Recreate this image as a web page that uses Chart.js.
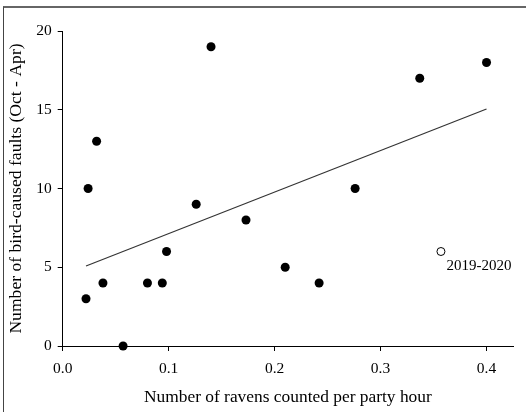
<!DOCTYPE html>
<html>
<head>
<meta charset="utf-8">
<script src="https://cdn.jsdelivr.net/npm/chart.js@4"></script>
<style>
  html, body { margin: 0; padding: 0; background: #fff; }
  #wrap { position: relative; width: 526px; height: 412px; overflow: hidden; }
  #frame { position: absolute; left: 3px; top: 6px; right: -10px; bottom: -10px;
           border-top: 2px solid #666; border-left: 1px solid #444; pointer-events: none; }
  canvas { position: absolute; left: 0; top: 0; }
</style>
</head>
<body>
<div id="wrap">
  <canvas id="c" width="526" height="412"></canvas>
  <div id="frame"></div>
</div>
<script>
// ---- data ----
const ravenRates = [0.022, 0.024, 0.032, 0.038, 0.057, 0.080, 0.094, 0.098, 0.126, 0.140, 0.173, 0.210, 0.242, 0.276, 0.337, 0.400];
const birdFaults = [3, 10, 13, 4, 0, 4, 4, 6, 9, 19, 8, 5, 4, 10, 17, 18];
const outlierX = [0.357];
const outlierY = [6];
const outlierLabel = "2019-2020";
const trendX = [0.022, 0.400];
const trendY = [5.08, 15.05];
const xTicks = [0.0, 0.1, 0.2, 0.3, 0.4];
const yTicks = [0, 5, 10, 15, 20];
const xTitle = "Number of ravens counted per party hour";
const yTitle = "Number of bird-caused faults (Oct - Apr)";

const FONT = "'Liberation Serif', 'Times New Roman', serif";

const labelPlugin = {
  id: 'outlierLabel',
  afterDatasetsDraw(chart) {
    const {ctx, scales: {x, y}} = chart;
    ctx.save();
    ctx.font = "15px " + FONT;
    ctx.fillStyle = "#000";
    ctx.textAlign = "left";
    ctx.textBaseline = "middle";
    const px = x.getPixelForValue(outlierX[0]);
    const py = y.getPixelForValue(outlierY[0]);
    ctx.fillText(outlierLabel, px + 5.5, py + 15);
    ctx.restore();
  }
};

new Chart(document.getElementById('c'), {
  type: 'scatter',
  data: {
    datasets: [
      {
        type: 'line',
        data: trendX.map((v, i) => ({x: v, y: trendY[i]})),
        borderColor: '#333',
        borderWidth: 1.2,
        pointRadius: 0,
        fill: false,
        clip: false,
        order: 3
      },
      {
        data: ravenRates.map((v, i) => ({x: v, y: birdFaults[i]})),
        backgroundColor: '#000',
        borderColor: '#000',
        borderWidth: 0,
        pointRadius: 4.5,
        clip: false,
        order: 1
      },
      {
        data: outlierX.map((v, i) => ({x: v, y: outlierY[i]})),
        backgroundColor: '#fff',
        borderColor: '#000',
        borderWidth: 1,
        pointRadius: 4,
        clip: false,
        order: 2
      }
    ]
  },
  options: {
    responsive: false,
    animation: false,
    devicePixelRatio: 1,
    layout: { padding: { left: 0, top: 31, right: 13, bottom: 0 } },
    plugins: { legend: { display: false }, tooltip: { enabled: false } },
    scales: {
      x: {
        type: 'linear',
        min: 0, max: 0.425,
        afterBuildTicks: s => { s.ticks = xTicks.map(v => ({value: v})); },
        afterFit: s => { s.height = 66; },
        grid: { display: true, drawOnChartArea: false, drawTicks: true, tickLength: 5, tickColor: '#000', lineWidth: 1 },
        border: { display: true, color: '#000', width: 1 },
        ticks: { color: '#000', font: { family: FONT, size: 15.5 }, padding: 9, callback: v => Number(v).toFixed(1), maxRotation: 0 },
        title: { display: true, text: xTitle, color: '#000', font: { family: FONT, size: 17.4 }, padding: { top: 0, bottom: 4 } }
      },
      y: {
        type: 'linear',
        min: 0, max: 20,
        afterBuildTicks: s => { s.ticks = yTicks.map(v => ({value: v})); },
        afterFit: s => { s.width = 62.7; },
        grid: { display: true, drawOnChartArea: false, drawTicks: true, tickLength: 5, tickColor: '#000', lineWidth: 1 },
        border: { display: true, color: '#000', width: 1 },
        ticks: { color: '#000', font: { family: FONT, size: 15.5 }, padding: 6 },
        title: { display: true, text: yTitle, color: '#000', font: { family: FONT, size: 17.6 }, padding: { top: 6, bottom: 0 } }
      }
    }
  },
  plugins: [labelPlugin]
});
</script>
</body>
</html>
